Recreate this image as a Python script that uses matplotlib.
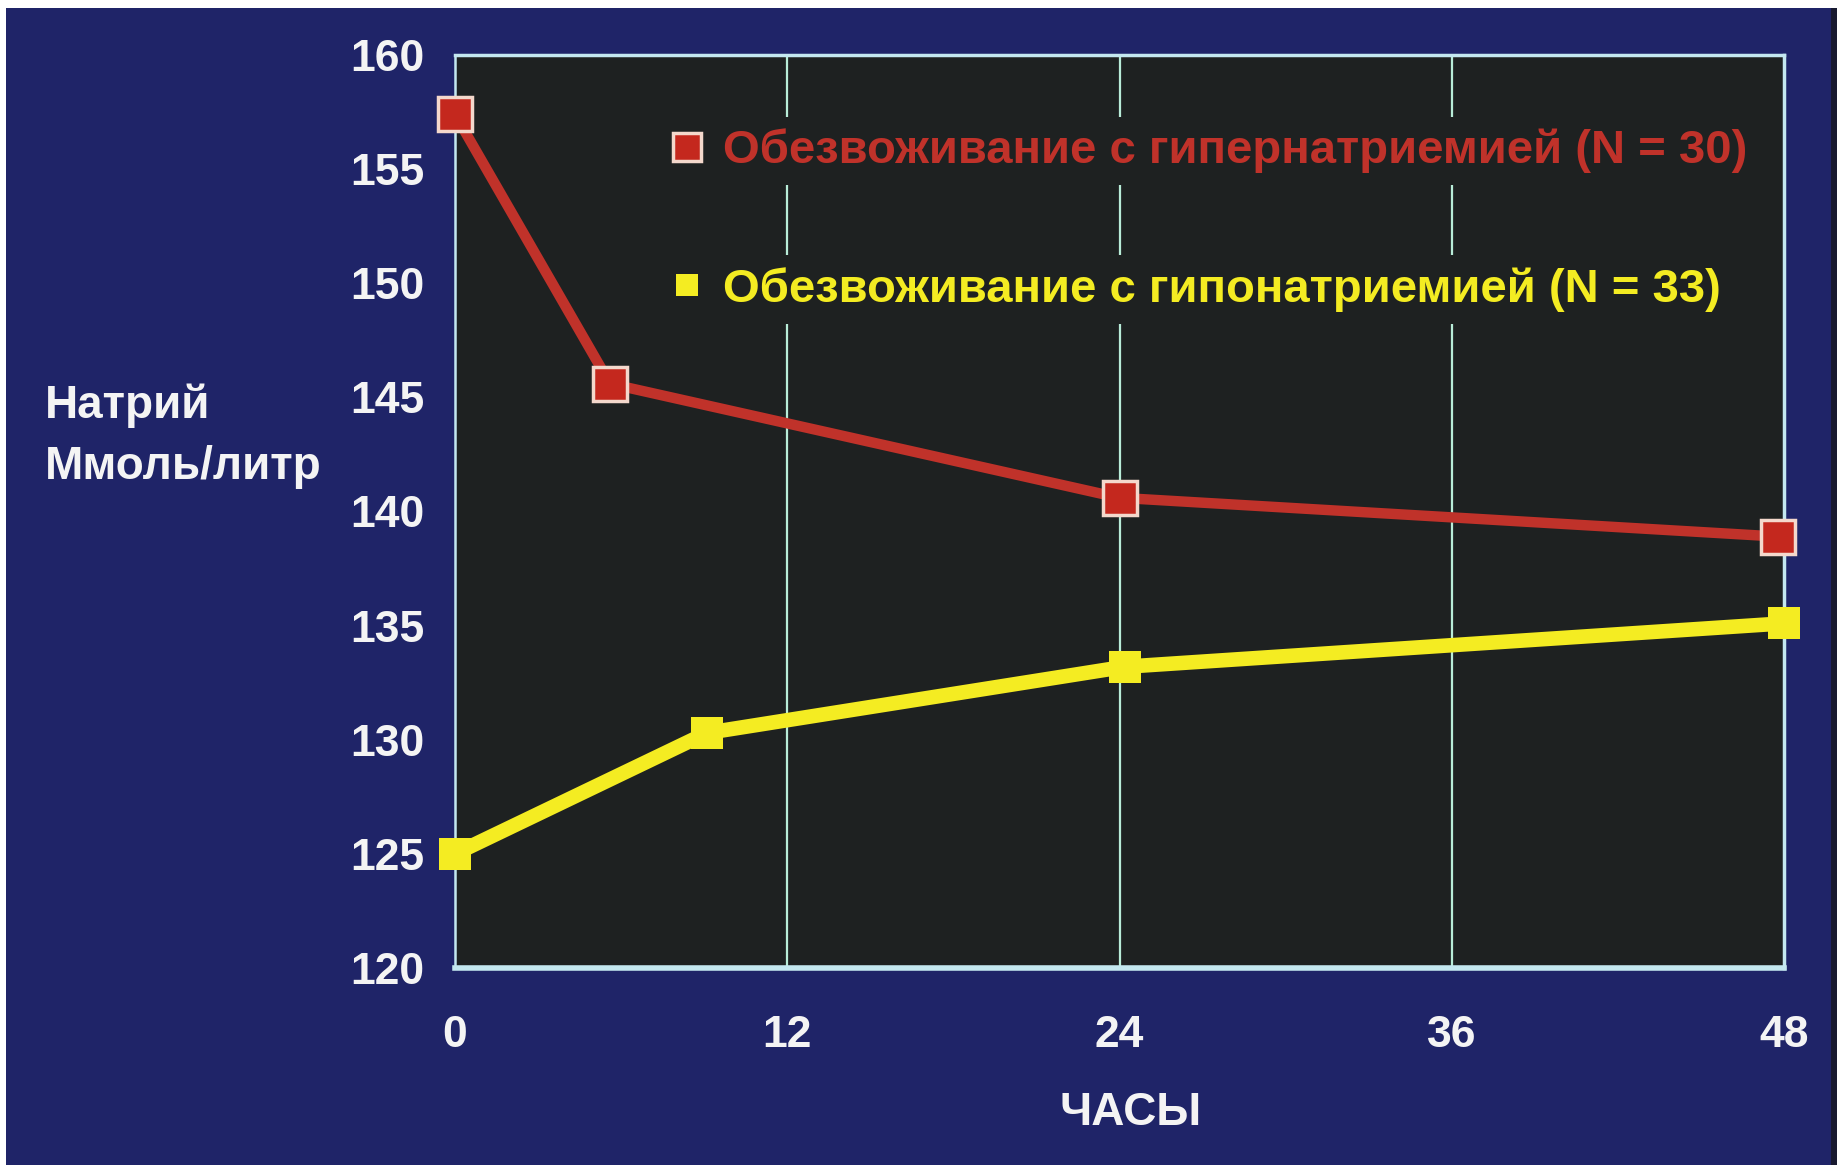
import matplotlib
matplotlib.use("Agg")
import matplotlib.pyplot as plt
from matplotlib.lines import Line2D
from matplotlib.patches import Rectangle

# ---- data ----
hours_hyper = [0, 5.6, 24, 47.8]
sodium_hyper = [157.4, 145.6, 140.6, 138.9]
hours_hypo = [0, 9.1, 24.2, 48]
sodium_hypo = [125.0, 130.3, 133.2, 135.1]
label_hyper = "Обезвоживание с гипернатриемией (N = 30)"
label_hypo = "Обезвоживание с гипонатриемией (N = 33)"
xticks = [0, 12, 24, 36, 48]
yticks = [120, 125, 130, 135, 140, 145, 150, 155, 160]
ylabel_text = "Натрий\nМмоль/литр"
xlabel_text = "ЧАСЫ"

FONT = ['Liberation Sans', 'DejaVu Sans']
plt.rcParams['font.family'] = FONT
plt.rcParams['font.weight'] = 'bold'

NAVY = "#1f2468"
AXBG = "#1e2121"
RED = "#c0322a"
RED_EDGE = "#f4d8cc"
YEL = "#f4ec22"
GRID = "#b8ecd8"
SPINE = "#c4e8f0"
WHITE = "#f4f4f4"

fig = plt.figure(figsize=(18.37, 11.67), dpi=100, facecolor="white")
fig.patches.append(Rectangle((6/1837, 2/1167), 1 - 6/1837, 1 - 10/1167,
                             transform=fig.transFigure, facecolor=NAVY,
                             edgecolor="none", zorder=-10))
fig.patches.append(Rectangle((1831/1837, 2/1167), 6/1837, 1 - 10/1167,
                             transform=fig.transFigure, facecolor="#181a30",
                             edgecolor="none", zorder=-9))

ax = fig.add_axes([455/1837, 199/1167, 1329/1837, 913/1167])
ax.set_facecolor(AXBG)
ax.set_xlim(0, 48)
ax.set_ylim(120, 160)
ax.set_xticks(xticks)
ax.set_yticks(yticks)
ax.tick_params(length=0, colors=WHITE, labelsize=32)
ax.tick_params(axis='y', pad=22)
ax.tick_params(axis='x', pad=34)
for lab in ax.get_xticklabels() + ax.get_yticklabels():
    lab.set_fontweight('bold')

for x in xticks[1:-1]:
    ax.axvline(x, color=GRID, lw=1.6, zorder=1)

for side, lw in [("left", 1.8), ("right", 2.5), ("top", 2.5), ("bottom", 4.0)]:
    ax.spines[side].set_color(SPINE)
    ax.spines[side].set_linewidth(lw)

ax.plot(hours_hyper, sodium_hyper, color=RED, lw=7.5, marker='s', ms=24,
        mfc="#c4281e", mec=RED_EDGE, mew=2.5, zorder=5, clip_on=False)
ax.plot(hours_hypo, sodium_hypo, color=YEL, lw=10.5, marker='s', ms=23,
        mfc=YEL, mec=YEL, mew=0, zorder=5, clip_on=False)

h1 = Line2D([], [], ls='none', marker='s', ms=20, mfc="#c4281e", mec=RED_EDGE, mew=2.5)
h2 = Line2D([], [], ls='none', marker='s', ms=16, mfc=YEL, mec=YEL, mew=0)

LEGFS = 34
common = dict(loc='center left', frameon=True, facecolor=AXBG,
              edgecolor='none', framealpha=1, borderpad=0.25, handlelength=0.9,
              handletextpad=0.3, borderaxespad=0, fancybox=False,
              prop={'family': FONT, 'weight': 'bold', 'size': LEGFS})
leg1 = ax.legend([h1], [label_hyper], bbox_to_anchor=(0.150, 0.895), **common)
leg1.get_texts()[0].set_color(RED)
leg1.set_zorder(3)
ax.add_artist(leg1)
leg2 = ax.legend([h2], [label_hypo], bbox_to_anchor=(0.150, 0.743), **common)
leg2.get_texts()[0].set_color(YEL)
leg2.set_zorder(3)

fig.text(45/1837, 1 - 436/1167, ylabel_text, color=WHITE, fontsize=33,
         fontweight='bold', ha='left', va='center', linespacing=1.5)
fig.text(1131/1837, 1 - 1113/1167, xlabel_text, color=WHITE, fontsize=33,
         fontweight='bold', ha='center', va='center')

fig.savefig("out.png", dpi=100, facecolor=fig.get_facecolor())
